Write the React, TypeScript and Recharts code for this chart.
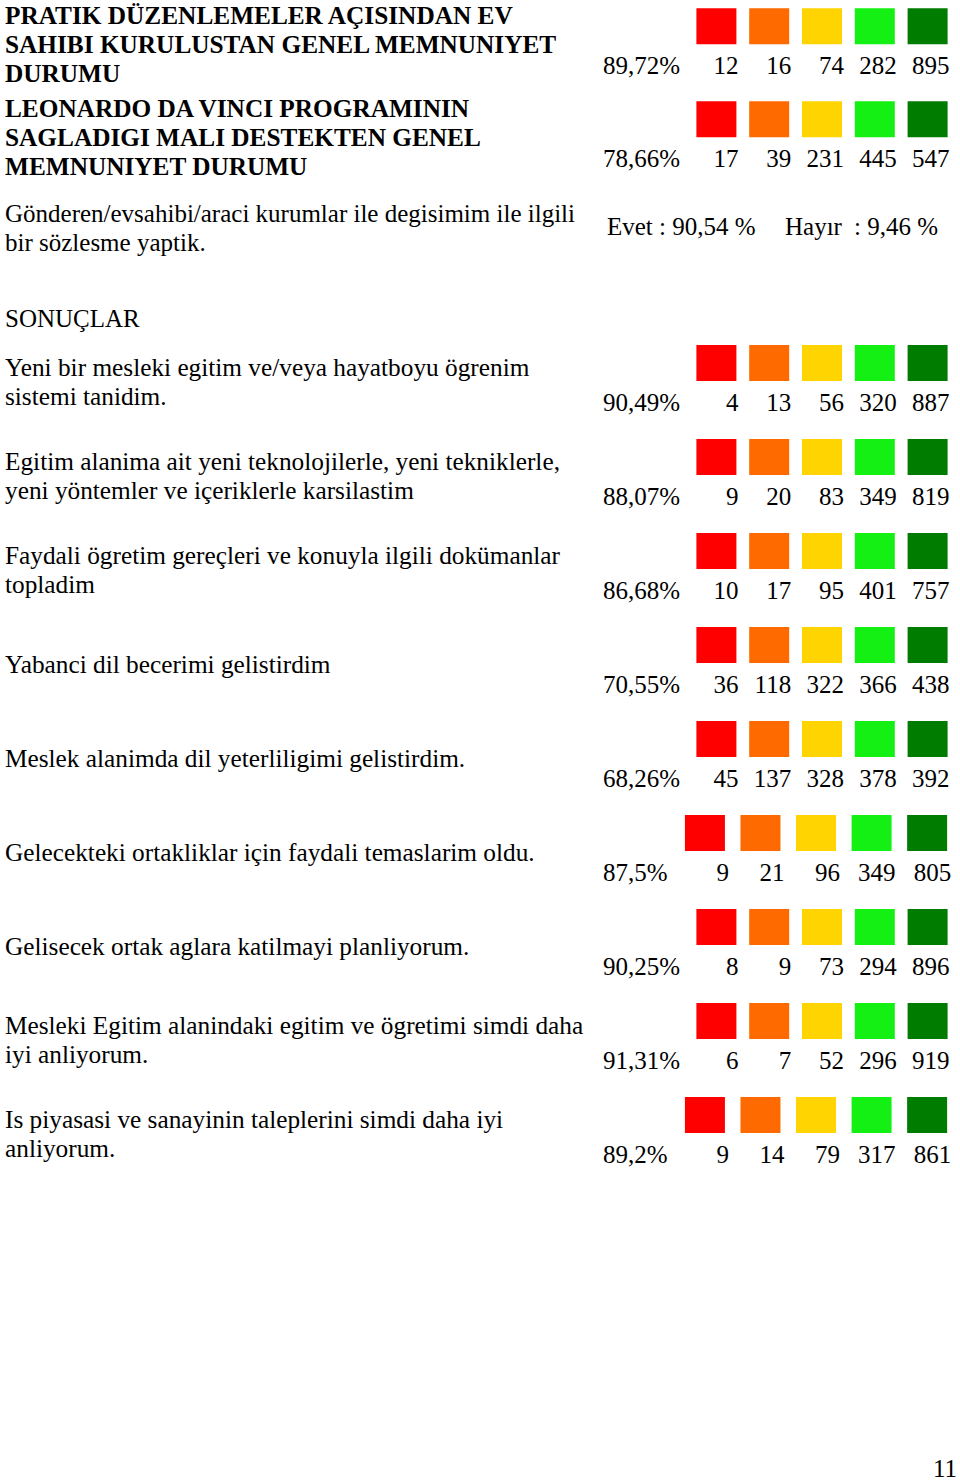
import React from 'react';
import { ScatterChart, Scatter, XAxis, YAxis, Customized } from 'recharts';

// ---------- DATA ----------
const levelNames = ['Çok düşük', 'Düşük', 'Orta', 'Yüksek', 'Çok yüksek'];
const levelColors = ['#FF0000', '#FF6A00', '#FFD400', '#14F014', '#007D00'];

// Top section (general satisfaction)
const topLabels: string[][] = [
  ['PRATIK DÜZENLEMELER AÇISINDAN EV', 'SAHIBI KURULUSTAN GENEL MEMNUNIYET', 'DURUMU'],
  ['LEONARDO DA VINCI PROGRAMININ', 'SAGLADIGI MALI DESTEKTEN GENEL', 'MEMNUNIYET DURUMU'],
];
const topPercents = ['89,72%', '78,66%'];
const topLevel1 = [12, 17];
const topLevel2 = [16, 39];
const topLevel3 = [74, 231];
const topLevel4 = [282, 445];
const topLevel5 = [895, 547];

const contractLabel = ['Gönderen/evsahibi/araci kurumlar ile degisimim ile ilgili', 'bir sözlesme yaptik.'];
const contractYes = 'Evet : 90,54 %';
const contractNoLabel = 'Hayır';
const contractNo = ': 9,46 %';

const sectionTitle = 'SONUÇLAR';
const pageNumber = '11';

// Results section
const resultLabels: string[][] = [
  ['Yeni bir mesleki egitim ve/veya hayatboyu ögrenim', 'sistemi tanidim.'],
  ['Egitim alanima ait yeni teknolojilerle, yeni tekniklerle,', 'yeni yöntemler ve içeriklerle karsilastim'],
  ['Faydali ögretim gereçleri ve konuyla ilgili dokümanlar', 'topladim'],
  ['Yabanci dil becerimi gelistirdim'],
  ['Meslek alanimda dil yeterliligimi gelistirdim.'],
  ['Gelecekteki ortakliklar için faydali temaslarim oldu.'],
  ['Gelisecek ortak aglara katilmayi planliyorum.'],
  ['Mesleki Egitim alanindaki egitim ve ögretimi simdi daha', 'iyi anliyorum.'],
  ['Is piyasasi ve sanayinin taleplerini simdi daha iyi', 'anliyorum.'],
];
const resultPercents = ['90,49%', '88,07%', '86,68%', '70,55%', '68,26%', '87,5%', '90,25%', '91,31%', '89,2%'];
const resLevel1 = [4, 9, 10, 36, 45, 9, 8, 6, 9];
const resLevel2 = [13, 20, 17, 118, 137, 21, 9, 7, 14];
const resLevel3 = [56, 83, 95, 322, 328, 96, 73, 52, 79];
const resLevel4 = [320, 349, 401, 366, 378, 349, 294, 296, 317];
const resLevel5 = [887, 819, 757, 438, 392, 805, 896, 919, 861];

// ---------- HELPERS ----------
const FONT = '"Liberation Serif", "Times New Roman", Times, serif';
const FS = 25;
const LABEL_FS = 25.3;

// rows whose percentage has a single decimal were typeset in a wider table cell
const isWide = (p: string) => (p.split(',')[1] || '').replace('%', '').length === 1;

type Pt = { level: number; row: number; count: number };
const buildSeries = (levels: number[][], percents: string[], wide: boolean) =>
  levels.map((arr, k) =>
    arr
      .map((count, i) => ({ level: k + 1, row: i, count }))
      .filter((p: Pt) => isWide(percents[p.row]) === wide)
  );

const topSeries = buildSeries([topLevel1, topLevel2, topLevel3, topLevel4, topLevel5], topPercents, false);
const resLevels = [resLevel1, resLevel2, resLevel3, resLevel4, resLevel5];
const resSeries = buildSeries(resLevels, resultPercents, false);
const resSeriesWide = buildSeries(resLevels, resultPercents, true);

const makeShape = (color: string, off: number) => (props: any) => {
  const { cx, cy, payload } = props;
  if (cx == null || cy == null) return null;
  return (
    <g>
      <rect x={cx - 20} y={cy - 18} width={40} height={36} fill={color} />
      <text x={cx + 20 + off} y={cy + 48} textAnchor="end" fontFamily={FONT} fontSize={FS} fill="#000">
        {payload.count}
      </text>
    </g>
  );
};

const makeTick = (labels: string[][], percents: string[], bold: boolean) => (props: any) => {
  const { y, payload } = props;
  const i = payload.value as number;
  const lines = labels[i];
  if (!lines) return null;
  const first = bold ? y - 2.5 : lines.length > 1 ? y + 13 : y + 27.5;
  return (
    <g>
      <text x={5} y={first} fontFamily={FONT} fontSize={LABEL_FS} fontWeight={bold ? 'bold' : 'normal'} fill="#000">
        {lines.map((l, j) => (
          <tspan key={j} x={5} y={first + j * 29}>{l}</tspan>
        ))}
      </text>
      <text x={603} y={y + 48} fontFamily={FONT} fontSize={FS} fill="#000">{percents[i]}</text>
    </g>
  );
};

const TopStatic = () => (
  <g fontFamily={FONT} fontSize={FS} fill="#000">
    <text x={5} y={221.5}>
      {contractLabel.map((l, j) => (
        <tspan key={j} x={5} y={221.5 + j * 29}>{l}</tspan>
      ))}
    </text>
    <text x={607} y={235}>{contractYes}</text>
    <text x={785} y={235}>{contractNoLabel}</text>
    <text x={854} y={235}>{contractNo}</text>
  </g>
);

const RES_TOP = 280;
const ResStatic = () => (
  <g fontFamily={FONT} fontSize={FS} fill="#000">
    <text x={5} y={327 - RES_TOP}>{sectionTitle}</text>
    <text x={957} y={1477 - RES_TOP} textAnchor="end">{pageNumber}</text>
  </g>
);

const xDomain: [number, number] = [0.5, 5.5];
const xDomainWide: [number, number] = [0.7315, 5.4837];

export default function App() {
  return (
    <div style={{ position: 'absolute', left: 0, top: 0, width: 960, height: 1483, background: '#fff' }}>
      <div style={{ position: 'absolute', left: 0, top: 0 }}>
        <ScatterChart width={960} height={280} margin={{ top: 3, right: 6, bottom: 91, left: 630 }}>
          <XAxis type="number" dataKey="level" domain={xDomain} hide />
          <YAxis
            type="number"
            dataKey="row"
            domain={[-0.25, 1.75]}
            reversed
            width={60}
            ticks={[0, 1]}
            interval={0}
            axisLine={false}
            tickLine={false}
            tick={makeTick(topLabels, topPercents, true)}
          />
          {topSeries.map((d, k) => (
            <Scatter key={k} name={levelNames[k]} data={d} fill={levelColors[k]} shape={makeShape(levelColors[k], 2)} isAnimationActive={false} />
          ))}
          <Customized component={TopStatic} />
        </ScatterChart>
      </div>
      <div style={{ position: 'absolute', left: 0, top: RES_TOP }}>
        <ScatterChart width={960} height={1483 - RES_TOP} margin={{ top: 36, right: 6, bottom: 1483 - RES_TOP - 36 - 846, left: 630 }}>
          <XAxis xAxisId="std" type="number" dataKey="level" domain={xDomain} hide />
          <XAxis xAxisId="wide" type="number" dataKey="level" domain={xDomainWide} hide />
          <YAxis
            type="number"
            dataKey="row"
            domain={[-0.5, 8.5]}
            reversed
            width={60}
            ticks={[0, 1, 2, 3, 4, 5, 6, 7, 8]}
            interval={0}
            axisLine={false}
            tickLine={false}
            tick={makeTick(resultLabels, resultPercents, false)}
          />
          {resSeries.map((d, k) => (
            <Scatter key={'s' + k} xAxisId="std" name={levelNames[k]} data={d} fill={levelColors[k]} shape={makeShape(levelColors[k], 2)} isAnimationActive={false} />
          ))}
          {resSeriesWide.map((d, k) => (
            <Scatter key={'w' + k} xAxisId="wide" name={levelNames[k]} data={d} fill={levelColors[k]} shape={makeShape(levelColors[k], 4)} isAnimationActive={false} legendType="none" />
          ))}
          <Customized component={ResStatic} />
        </ScatterChart>
      </div>
    </div>
  );
}
